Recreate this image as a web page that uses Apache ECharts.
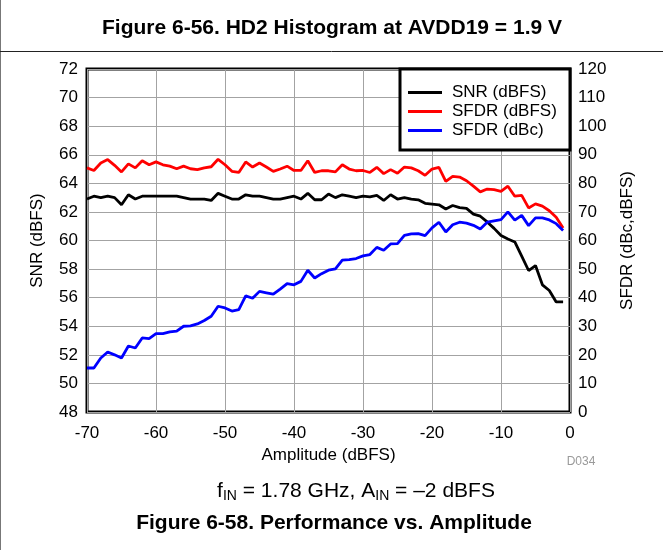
<!DOCTYPE html>
<html>
<head>
<meta charset="utf-8">
<script src="https://cdn.jsdelivr.net/npm/echarts@6/dist/echarts.min.js"></script>
<style>
  html, body { margin: 0; padding: 0; background: #ffffff; }
  #chart { width: 663px; height: 550px; }
</style>
</head>
<body>
<div id="chart"></div>
<script>
// Input amplitude sweep (dBFS)
const amplitude = [
  -70, -69, -68, -67, -66, -65, -64, -63, -62, -61,
  -60, -59, -58, -57, -56, -55, -54, -53, -52, -51,
  -50, -49, -48, -47, -46, -45, -44, -43, -42, -41,
  -40, -39, -38, -37, -36, -35, -34, -33, -32, -31,
  -30, -29, -28, -27, -26, -25, -24, -23, -22, -21,
  -20, -19, -18, -17, -16, -15, -14, -13, -12, -11,
  -10, -9, -8, -7, -6, -5, -4, -3, -2, -1
];

// SNR (dBFS) — left axis
const snrDbfs = [
  62.9, 63.1, 63.0, 63.1, 63.0, 62.5, 63.2, 62.9, 63.1, 63.1,
  63.1, 63.1, 63.1, 63.1, 63.0, 62.9, 62.9, 62.9, 62.8, 63.3,
  63.1, 62.9, 62.9, 63.2, 63.1, 63.1, 63.0, 62.9, 62.9, 63.0,
  63.1, 62.9, 63.3, 62.85, 62.85, 63.25, 63.0, 63.2, 63.1, 63.0,
  63.1, 63.05, 63.15, 62.8, 63.2, 62.9, 63.0, 62.9, 62.85, 62.6,
  62.55, 62.5, 62.2, 62.45, 62.3, 62.25, 61.85, 61.7, 61.3, 60.85,
  60.35, 60.1, 59.9, 58.9, 57.9, 58.25, 56.9, 56.5, 55.7, 55.7
];

// SFDR (dBFS) — right axis
const sfdrDbfs = [
  85.4, 84.5, 87.1, 88.3, 86.3, 84.0, 86.8, 85.4, 87.9, 86.5,
  87.5, 86.5, 86.0, 85.1, 86.0, 85.1, 84.8, 85.4, 85.8, 88.4,
  86.5, 84.2, 83.8, 87.5, 85.7, 87.1, 85.7, 84.2, 85.0, 86.0,
  84.5, 84.5, 87.9, 83.8, 84.4, 84.4, 84.0, 86.5, 85.0, 84.4,
  84.5, 83.8, 85.6, 83.4, 84.8, 83.5, 85.7, 85.4, 84.4, 82.8,
  85.0, 85.6, 80.7, 82.4, 82.2, 80.9, 79.0, 77.0, 78.0, 77.8,
  77.2, 79.0, 75.5, 75.8, 71.4, 72.8, 72.0, 70.4, 68.1, 64.4
];

// SFDR (dBc) — right axis
const sfdrDbc = [
  15.4, 15.4, 18.9, 21.0, 20.0, 18.9, 23.1, 22.4, 25.9, 25.7,
  27.4, 27.4, 28.0, 28.3, 30.0, 30.1, 30.8, 32.0, 33.5, 37.0,
  36.4, 35.3, 35.8, 40.6, 39.8, 42.2, 41.7, 41.2, 43.0, 44.9,
  44.5, 45.7, 49.6, 46.9, 48.4, 49.6, 50.1, 53.1, 53.3, 53.7,
  54.6, 55.1, 57.6, 56.6, 58.8, 58.9, 61.8, 62.3, 62.4, 61.7,
  64.4, 66.4, 63.0, 65.5, 66.4, 66.1, 65.3, 64.0, 66.4, 66.9,
  67.3, 70.0, 67.1, 68.8, 65.2, 67.9, 67.9, 67.2, 65.9, 63.5
];

// Axis ranges
const xRange = { min: -70, max: 0, step: 10 };
const leftRange = { min: 48, max: 72, step: 2 };
const rightRange = { min: 0, max: 120, step: 10 };

const seriesNames = ['SNR (dBFS)', 'SFDR (dBFS)', 'SFDR (dBc)'];

const FONT = '"Liberation Sans", Arial, Helvetica, sans-serif';

function pairs(values) {
  return amplitude.map((a, i) => [a, values[i]]);
}

const chart = echarts.init(document.getElementById('chart'), null, { renderer: 'canvas' });

const gridLeft = 87, gridTop = 69, gridWidth = 483, gridHeight = 343;

chart.setOption({
  animation: false,
  backgroundColor: '#ffffff',
  textStyle: { fontFamily: FONT },
  grid: {
    left: gridLeft, top: gridTop, width: gridWidth, height: gridHeight,
    show: true, borderColor: '#000000', borderWidth: 3,
    backgroundColor: 'transparent'
  },
  legend: {
    orient: 'vertical',
    left: 408, top: 84,
    icon: 'rect',
    itemWidth: 34, itemHeight: 3,
    itemGap: 2,
    padding: 0,
    textStyle: { fontFamily: FONT, fontSize: 17, color: '#000', lineHeight: 17, padding: [0, 0, 0, 5] },
    data: seriesNames,
    z: 6
  },
  xAxis: {
    type: 'value',
    min: xRange.min, max: xRange.max, interval: xRange.step,
    name: 'Amplitude (dBFS)',
    nameLocation: 'middle', nameGap: 33,
    nameTextStyle: { fontFamily: FONT, fontSize: 17, color: '#000' },
    axisLine: { show: false },
    axisTick: { show: false },
    axisLabel: { fontFamily: FONT, fontSize: 17, color: '#000', margin: 13 },
    splitLine: { show: true, lineStyle: { color: '#a3a3a3', width: 1 } }
  },
  yAxis: [
    {
      type: 'value', position: 'left',
      min: leftRange.min, max: leftRange.max, interval: leftRange.step,
      name: 'SNR (dBFS)',
      nameLocation: 'middle', nameGap: 41,
      nameTextStyle: { fontFamily: FONT, fontSize: 17, color: '#000' },
      axisLine: { show: false },
      axisTick: { show: false },
      axisLabel: { fontFamily: FONT, fontSize: 17, color: '#000', margin: 9 },
      splitLine: { show: true, lineStyle: { color: '#a3a3a3', width: 1 } }
    },
    {
      type: 'value', position: 'right',
      min: rightRange.min, max: rightRange.max, interval: rightRange.step,
      name: 'SFDR (dBc,dBFS)',
      nameLocation: 'middle', nameGap: 49,
      nameRotate: 90,
      nameTextStyle: { fontFamily: FONT, fontSize: 17, color: '#000' },
      axisLine: { show: false },
      axisTick: { show: false },
      axisLabel: { fontFamily: FONT, fontSize: 17, color: '#000', margin: 8 },
      splitLine: { show: false }
    }
  ],
  series: [
    {
      name: seriesNames[0], type: 'line', yAxisIndex: 0,
      data: pairs(snrDbfs), showSymbol: false, symbol: 'none',
      lineStyle: { color: '#000000', width: 2.8 }, itemStyle: { color: '#000000' }, z: 3
    },
    {
      name: seriesNames[1], type: 'line', yAxisIndex: 1,
      data: pairs(sfdrDbfs), showSymbol: false, symbol: 'none',
      lineStyle: { color: '#ff0000', width: 2.8 }, itemStyle: { color: '#ff0000' }, z: 3
    },
    {
      name: seriesNames[2], type: 'line', yAxisIndex: 1,
      data: pairs(sfdrDbc), showSymbol: false, symbol: 'none',
      lineStyle: { color: '#0000ff', width: 2.8 }, itemStyle: { color: '#0000ff' }, z: 3
    }
  ],
  graphic: [
    // page frame lines
    { type: 'line', shape: { x1: 0.5, y1: 0, x2: 0.5, y2: 550 }, style: { stroke: '#777777', lineWidth: 1 }, z: 1 },
    { type: 'line', shape: { x1: 0, y1: 51.5, x2: 663, y2: 51.5 }, style: { stroke: '#222222', lineWidth: 1 }, z: 1 },
    // trailing fragment of the caption above
    { type: 'text', x: 295, y: -4, style: { text: 'IN', font: '13px ' + FONT, fill: '#000', align: 'left', verticalAlign: 'middle' }, z: 1 },
    // heading
    { type: 'text', x: 332, y: 28, style: { text: 'Figure 6-56. HD2 Histogram at AVDD19 = 1.9 V', font: 'bold 21px ' + FONT, fill: '#000', align: 'center', verticalAlign: 'middle' }, z: 1 },
    // legend frame
    { type: 'rect', shape: { x: 400, y: 69, width: 170, height: 81 }, style: { fill: '#ffffff', stroke: '#000000', lineWidth: 3 }, z: 5 },
    // drawing id
    { type: 'text', x: 581, y: 462, style: { text: 'D034', font: '12px ' + FONT, fill: '#9a9a9a', align: 'center', verticalAlign: 'middle' }, z: 1 },
    // test conditions
    { type: 'text', x: 356, y: 491, style: {
        text: 'f{sub|IN} = 1.78 GHz, A{sub|IN} = \u20132 dBFS',
        font: '21px ' + FONT, fill: '#000', align: 'center', verticalAlign: 'middle',
        rich: { sub: { fontSize: 14, fontFamily: FONT, fill: '#000', padding: [10, 0, 0, 0] } }
      }, z: 1 },
    // caption
    { type: 'text', x: 334, y: 523, style: { text: 'Figure 6-58. Performance vs. Amplitude', font: 'bold 21px ' + FONT, fill: '#000', align: 'center', verticalAlign: 'middle' }, z: 1 }
  ]
});
</script>
</body>
</html>
